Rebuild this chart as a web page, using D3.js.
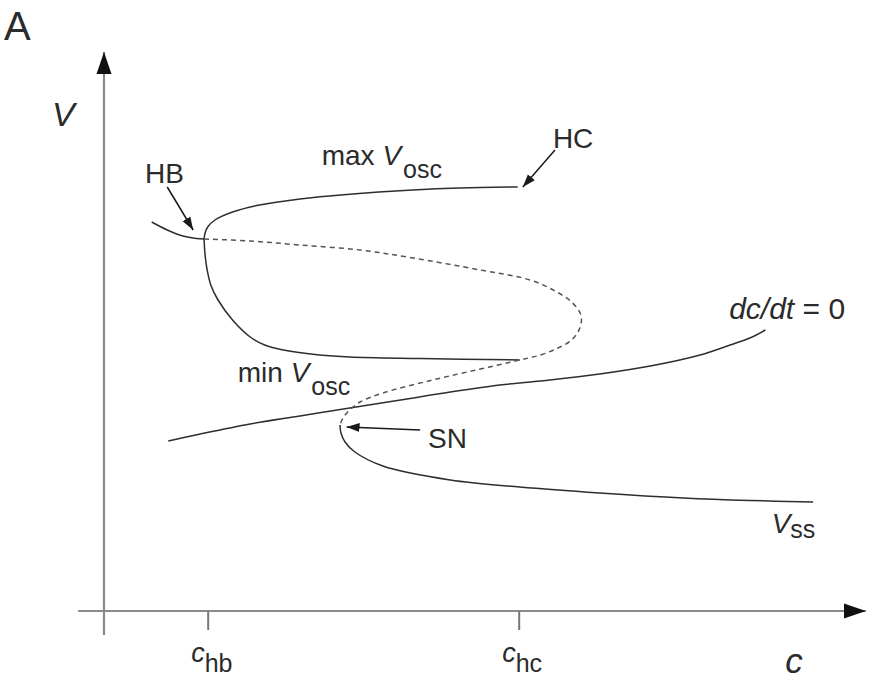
<!DOCTYPE html>
<html>
<head>
<meta charset="utf-8">
<script src="https://cdn.jsdelivr.net/npm/d3@7"></script>
<style>
  html, body { margin: 0; padding: 0; background: #fff; }
  svg { display: block; font-family: "Liberation Sans", Arial, Helvetica, sans-serif; }
  text { fill: #2b2b2b; }
</style>
</head>
<body>
<svg id="chart" width="875" height="684"></svg>
<script>
// Bifurcation diagram of V against the slow variable c (schematic units)

// Axis tick positions on c
const tickValues = [1, 4];
const tickNames = [["c", "hb"], ["c", "hc"]];

// Stable steady state above the Hopf point
const upperStable = [[0.46,3.89],[0.61,3.81],[0.76,3.75],[0.89,3.725],[0.965,3.72]];

// Maximum of the periodic orbit, HB to HC
const maxVosc = [[0.965,3.72],[0.975,3.78],[1.00,3.84],[1.07,3.91],[1.24,3.99],[1.50,4.06],
  [1.89,4.12],[2.34,4.165],[2.98,4.21],[3.43,4.23],[3.99,4.24]];

// Minimum of the periodic orbit, HB to HC
const minVosc = [[0.965,3.72],[0.975,3.56],[0.995,3.41],[1.03,3.26],[1.10,3.11],[1.24,2.91],
  [1.41,2.74],[1.55,2.66],[1.73,2.61],[2.08,2.56],[2.37,2.54],[3.05,2.525],[4.01,2.51]];

// Unstable steady states (middle of the S-shaped curve), HB to SN
const unstable = [[0.965,3.72],[1.41,3.70],[1.89,3.66],[2.47,3.61],[2.98,3.53],[3.63,3.41],
  [4.11,3.31],[4.35,3.20],[4.51,3.09],[4.60,2.96],[4.59,2.83],[4.51,2.71],[4.38,2.63],
  [4.21,2.56],[4.01,2.51],[3.63,2.42],[3.17,2.31],[2.69,2.18],[2.47,2.09],[2.37,2.01],
  [2.305,1.93],[2.276,1.86]];

// Lower stable steady state V_ss, from SN
const lowerStable = [[2.276,1.86],[2.286,1.78],[2.325,1.69],[2.42,1.59],[2.69,1.45],[3.34,1.31],
  [4.01,1.24],[4.78,1.18],[5.59,1.13],[6.23,1.105],[6.84,1.09]];

// c-nullcline, dc/dt = 0
const nullcline = [[0.62,1.70],[0.93,1.77],[1.41,1.87],[1.89,1.95],[2.37,2.03],[2.86,2.11],
  [3.34,2.19],[3.82,2.26],[4.30,2.31],[4.78,2.37],[5.27,2.45],[5.75,2.56],[6.04,2.66],
  [6.23,2.73],[6.38,2.81]];

// Pointer arrows for the bifurcation points
const pointers = [
  { from: [0.61, 4.24], to: [0.86, 3.81] },   // HB
  { from: [4.35, 4.61], to: [4.04, 4.24] },   // HC
  { from: [3.05, 1.81], to: [2.34, 1.84] }    // SN
];

// Curve labels: [text, italic, subscript shift]
const labels = [
  { at: [0.395, 4.28], size: 28, parts: [["HB", false, 0]] },
  { at: [4.33, 4.63], size: 28, parts: [["HC", false, 0]] },
  { at: [3.125, 1.63], size: 28, parts: [["SN", false, 0]] },
  { at: [2.10, 4.46], size: 28, parts: [["max ", false, 0], ["V", true, 0], ["osc", false, 13]] },
  { at: [1.29, 2.29], size: 28, parts: [["min ", false, 0], ["V", true, 0], ["osc", false, 13]] },
  { at: [6.03, 2.92], size: 30, parts: [["dc/dt", true, 0], [" = 0", false, 0]] },
  { at: [6.44, 0.78], size: 28, parts: [["V", true, 0], ["ss", false, 5]] }
];

const svg = d3.select("#chart");

const x = d3.scaleLinear().domain([0, 7.35]).range([104, 866]);
const y = d3.scaleLinear().domain([0, 5.59]).range([611, 52]);

// Arrowhead markers
const defs = svg.append("defs");
defs.append("marker")
  .attr("id", "axisHead").attr("markerUnits", "userSpaceOnUse")
  .attr("viewBox", "0 -8 22 16").attr("refX", 22).attr("refY", 0)
  .attr("markerWidth", 22).attr("markerHeight", 16).attr("orient", "auto")
  .append("path").attr("d", "M0,-7.5L22,0L0,7.5Z").attr("fill", "#111");
defs.append("marker")
  .attr("id", "pointHead").attr("markerUnits", "userSpaceOnUse")
  .attr("viewBox", "0 -5 13 10").attr("refX", 13).attr("refY", 0)
  .attr("markerWidth", 13).attr("markerHeight", 10).attr("orient", "auto")
  .append("path").attr("d", "M0,-4.5L13,0L0,4.5Z").attr("fill", "#1a1a1a");

// Axes
svg.append("line")
  .attr("x1", x(-0.25)).attr("y1", y(0)).attr("x2", x(7.35)).attr("y2", y(0))
  .attr("stroke", "#8a8a8a").attr("stroke-width", 2.2).attr("marker-end", "url(#axisHead)");
svg.append("line")
  .attr("x1", x(0)).attr("y1", y(-0.24)).attr("x2", x(0)).attr("y2", y(5.59))
  .attr("stroke", "#8a8a8a").attr("stroke-width", 2.2).attr("marker-end", "url(#axisHead)");

const xAxis = d3.axisBottom(x).tickValues(tickValues).tickSize(19).tickFormat(() => "");
const gx = svg.append("g").attr("transform", `translate(0,${y(0)})`).call(xAxis);
gx.select(".domain").remove();
gx.selectAll(".tick line").attr("stroke", "#777").attr("stroke-width", 2);
gx.selectAll(".tick text").remove();
gx.selectAll(".tick").each(function(d, i) {
  const t = d3.select(this).append("text")
    .attr("x", -17).attr("y", 51).attr("text-anchor", "start").attr("fill", "#2b2b2b");
  t.append("tspan").attr("font-style", "italic").attr("font-size", 27).text(tickNames[i][0]);
  t.append("tspan").attr("font-size", 25).attr("dy", 10).text(tickNames[i][1]);
});

// Axis titles and panel letter
svg.append("text").attr("x", x(6.57)).attr("y", 673)
  .attr("font-size", 35).attr("font-style", "italic").text("c");
svg.append("text").attr("x", 52).attr("y", 126)
  .attr("font-size", 34).attr("font-style", "italic").text("V");
svg.append("text").attr("x", 4).attr("y", 40)
  .attr("font-size", 40).text("A");

// Curves
const line = d3.line().x(d => x(d[0])).y(d => y(d[1])).curve(d3.curveCatmullRom.alpha(0.5));
const solid = [upperStable, maxVosc, minVosc, lowerStable, nullcline];
svg.append("g").selectAll("path").data(solid).join("path")
  .attr("d", line).attr("fill", "none").attr("stroke", "#2e2e2e").attr("stroke-width", 1.5);
svg.append("path").datum(unstable).attr("d", line)
  .attr("fill", "none").attr("stroke", "#555").attr("stroke-width", 1.5)
  .attr("stroke-dasharray", "5,4");

// Pointer arrows
svg.append("g").selectAll("line").data(pointers).join("line")
  .attr("x1", d => x(d.from[0])).attr("y1", d => y(d.from[1]))
  .attr("x2", d => x(d.to[0])).attr("y2", d => y(d.to[1]))
  .attr("stroke", "#1a1a1a").attr("stroke-width", 1.5).attr("marker-end", "url(#pointHead)");

// Labels
labels.forEach(l => {
  const t = svg.append("text").attr("x", x(l.at[0])).attr("y", y(l.at[1])).attr("font-size", l.size);
  l.parts.forEach(([txt, ital, shift]) => {
    const ts = t.append("tspan").text(txt);
    if (ital) ts.attr("font-style", "italic");
    if (shift) ts.attr("font-size", 25).attr("dy", shift).attr("dx", shift > 8 ? 2 : 0);
  });
});
</script>
</body>
</html>
